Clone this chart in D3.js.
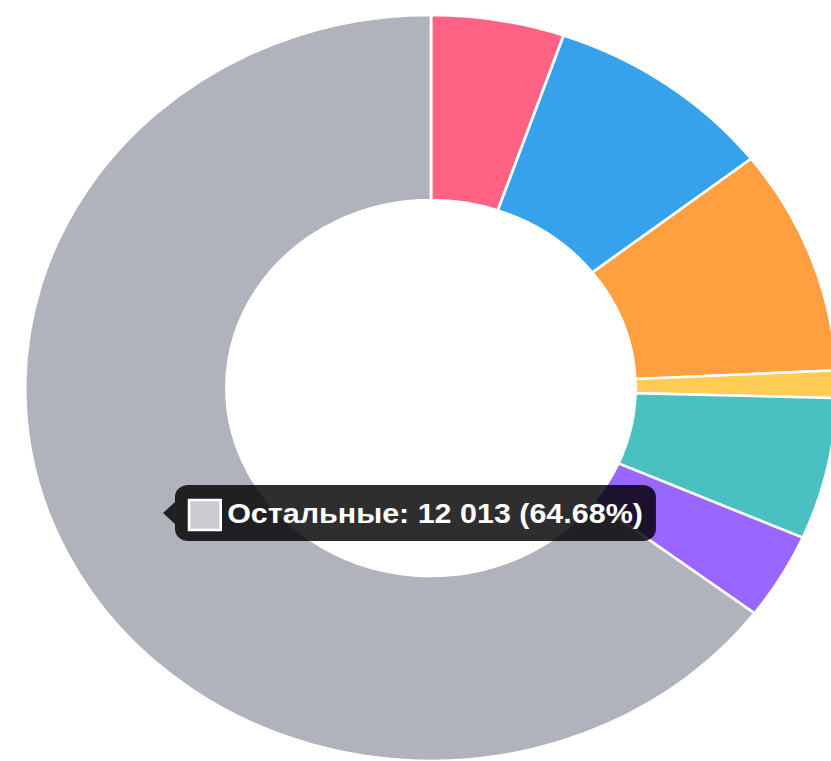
<!DOCTYPE html>
<html>
<head>
<meta charset="utf-8">
<script src="https://cdn.jsdelivr.net/npm/d3@7"></script>
<style>
  html, body { margin: 0; padding: 0; background: #fff; }
</style>
</head>
<body>
<div id="chart"></div>
<script>
// slice data (clockwise from 12 o'clock)
var labels = ["Категория 1", "Категория 2", "Категория 3", "Категория 4", "Категория 5", "Категория 6", "Остальные"];
var values = [984, 1703, 1816, 221, 1140, 696, 12013];
var colors = ["#ff6384", "#36a2eb", "#ff9f40", "#ffcd56", "#4bc0c0", "#9966ff", "#b0b3bc"];
var hoverIndex = 6;

function initDoughnut() {
  var width = 831, height = 761;
  var cx = 431, cy = 388;
  var stretchX = 1.088; // picture is a bit wider than tall
  var outerR = 373, innerR = 188;

  var data = labels.map(function(l, i) {
    return { label: l, value: values[i], color: colors[i] };
  });
  var total = d3.sum(values);

  var svg = d3.select("#chart")
    .append("svg")
    .attr("width", width)
    .attr("height", height);

  var g = svg.append("g")
    .attr("transform", "translate(" + cx + "," + cy + ") scale(" + stretchX + ",1)");

  var pie = d3.pie().sort(null).value(function(d) { return d.value; });
  var arc = d3.arc().innerRadius(innerR).outerRadius(outerR);

  g.selectAll(".slice")
    .data(pie(data))
    .enter()
    .append("path")
    .attr("class", "slice")
    .attr("d", arc)
    .style("fill", function(d) { return d.data.color; })
    .style("stroke", "#fff")
    .style("stroke-width", 2.5);

  //tooltip for hovered slice
  var hov = data[hoverIndex];
  var pct = (hov.value / total * 100).toFixed(2);
  var numFmt = d3.format(",d");
  var txt = hov.label + ": " + numFmt(hov.value).replace(/,/g, " ") + " (" + pct + "%)";

  var tipX = (163 - cx) / stretchX, tipY = 513 - cy; // caret point
  var caret = 11, boxH = 56, pad = 10;
  var tip = g.append("g")
    .attr("transform", "translate(" + tipX + "," + tipY + ")");

  var label = tip.append("text")
    .attr("x", caret + pad + 32 + 6)
    .attr("y", 10)
    .style("font-family", "Liberation Sans, Arial, sans-serif")
    .style("font-weight", "bold")
    .style("font-size", "28px")
    .style("fill", "#fff")
    .text(txt);
  var textW = label.node().getComputedTextLength();
  var boxW = 32 + 6 + textW + pad * 2 + 2;

  tip.insert("rect", "text")
    .attr("x", caret)
    .attr("y", -boxH / 2)
    .attr("width", boxW)
    .attr("height", boxH)
    .attr("rx", 12)
    .style("fill", "rgba(0,0,0,0.82)");
  tip.insert("path", "text")
    .attr("d", "M0,0L" + caret + "," + (-caret) + "L" + caret + "," + caret + "Z")
    .style("fill", "rgba(0,0,0,0.82)");
  //colour box
  tip.append("rect")
    .attr("x", caret + pad + 3)
    .attr("y", -13)
    .attr("width", 29)
    .attr("height", 30)
    .style("fill", "#c9cbcf")
    .style("stroke", "#fff")
    .style("stroke-width", 2.5);
}

window.onload = initDoughnut;
</script>
</body>
</html>
